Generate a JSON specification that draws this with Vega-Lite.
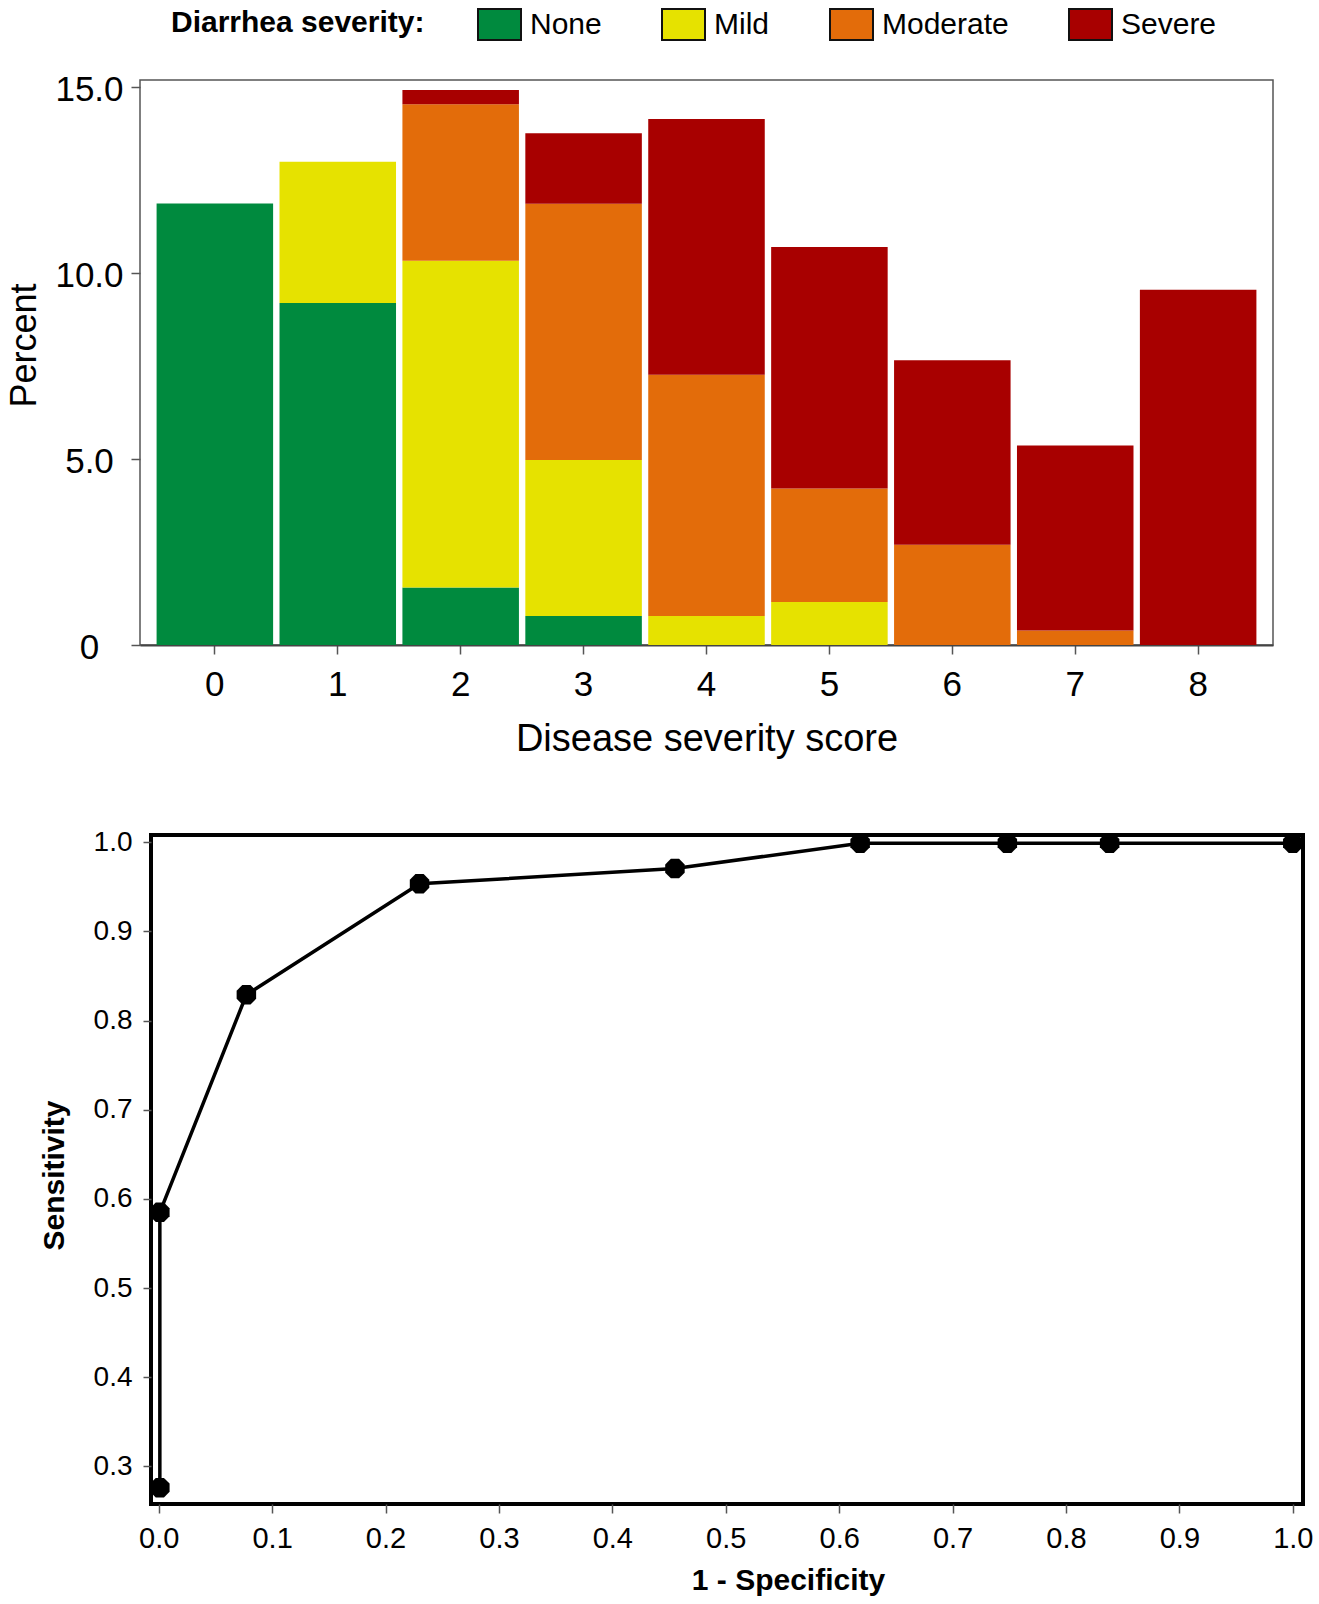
{
  "$schema": "https://vega.github.io/schema/vega-lite/v6.json",
  "padding": {"left": 4, "top": 2, "right": 5, "bottom": 0},
  "spacing": 67,
  "config": {
    "font": "Liberation Sans",
    "view": {"stroke": null},
    "axis": {"labelColor": "#000", "titleColor": "#000", "grid": false, "labelFont": "Liberation Sans", "titleFont": "Liberation Sans"}
  },
  "vconcat": [
    {
      "spacing": 0,
      "hconcat": [
        {
          "width": 1, "height": 1,
          "data": {"values": [{"a": 1}]},
          "mark": {"type": "point", "opacity": 0, "size": 1},
          "view": {"stroke": null}
        },
        {
          "width": 1133,
          "height": 565,
          "view": {"stroke": "#555", "strokeWidth": 1.5},
          "data": {"values": [
            {"score": 0, "diarrhea": "None", "k": 1, "percent": 11.88},
            {"score": 1, "diarrhea": "None", "k": 1, "percent": 9.2},
            {"score": 1, "diarrhea": "Mild", "k": 2, "percent": 3.8},
            {"score": 2, "diarrhea": "None", "k": 1, "percent": 1.55},
            {"score": 2, "diarrhea": "Mild", "k": 2, "percent": 8.79},
            {"score": 2, "diarrhea": "Moderate", "k": 3, "percent": 4.21},
            {"score": 2, "diarrhea": "Severe", "k": 4, "percent": 0.38},
            {"score": 3, "diarrhea": "None", "k": 1, "percent": 0.78},
            {"score": 3, "diarrhea": "Mild", "k": 2, "percent": 4.2},
            {"score": 3, "diarrhea": "Moderate", "k": 3, "percent": 6.89},
            {"score": 3, "diarrhea": "Severe", "k": 4, "percent": 1.9},
            {"score": 4, "diarrhea": "Mild", "k": 2, "percent": 0.78},
            {"score": 4, "diarrhea": "Moderate", "k": 3, "percent": 6.49},
            {"score": 4, "diarrhea": "Severe", "k": 4, "percent": 6.88},
            {"score": 5, "diarrhea": "Mild", "k": 2, "percent": 1.16},
            {"score": 5, "diarrhea": "Moderate", "k": 3, "percent": 3.05},
            {"score": 5, "diarrhea": "Severe", "k": 4, "percent": 6.5},
            {"score": 6, "diarrhea": "Moderate", "k": 3, "percent": 2.7},
            {"score": 6, "diarrhea": "Severe", "k": 4, "percent": 4.96},
            {"score": 7, "diarrhea": "Moderate", "k": 3, "percent": 0.39},
            {"score": 7, "diarrhea": "Severe", "k": 4, "percent": 4.98},
            {"score": 8, "diarrhea": "Severe", "k": 4, "percent": 9.56}
          ]},
          "mark": {"type": "bar"},
          "encoding": {
            "x": {
              "field": "score", "type": "ordinal",
              "scale": {"paddingInner": 0.052, "paddingOuter": 0.135},
              "axis": {
                "title": "Disease severity score", "labelAngle": 0, "labelFontSize": 35,
                "tickSize": 9, "labelPadding": 13, "tickColor": "#555", "tickWidth": 1.5,
                "domainColor": "#444", "domainWidth": 2,
                "titleFontSize": 38, "titleFontWeight": "normal", "titleBaseline": "alphabetic", "titleY": 105
              }
            },
            "y": {
              "field": "percent", "type": "quantitative", "stack": "zero",
              "scale": {"domain": [0, 15.2], "nice": false},
              "axis": {
                "title": "Percent", "values": [0, 5, 10, 15],
                "labelExpr": "datum.value == 0 ? '0' : format(datum.value, '.1f')",
                "labelFontSize": 35, "labelAlign": "center", "labelPadding": 42, "labelOffset": 2,
                "tickSize": 9, "tickColor": "#555", "tickWidth": 1.5, "domain": false,
                "titleFontSize": 36, "titleFontWeight": "normal", "titleX": -105, "titleY": 265, "titleBaseline": "alphabetic"
              }
            },
            "color": {
              "field": "diarrhea", "type": "nominal",
              "scale": {"domain": ["None", "Mild", "Moderate", "Severe"], "range": ["#008a3e", "#e6e200", "#e36c0a", "#a80000"]},
              "legend": {
                "orient": "none", "legendX": 167, "legendY": -78, "direction": "horizontal",
                "title": "Diarrhea severity:", "titleOrient": "left", "titleFontSize": 30, "titleFontWeight": "bold",
                "titleLimit": 500, "titleColor": "#000", "titlePadding": 52, "labelFontSize": 30, "labelColor": "#000", "labelOffset": 8,
                "labelLimit": 300, "columnPadding": 56, "padding": 0,
                "symbolType": "M-1,-0.72H1V0.72H-1Z", "symbolSize": 1849,
                "symbolStrokeColor": "#111", "symbolStrokeWidth": 2, "symbolOpacity": 1
              }
            },
            "order": {"field": "k", "type": "quantitative"}
          }
        }
      ]
    },
    {
      "spacing": 20,
      "hconcat": [
        {
          "width": 13, "height": 1,
          "data": {"values": [{"a": 1}]},
          "mark": {"type": "point", "opacity": 0, "size": 1},
          "view": {"stroke": null}
        },
        {
          "width": 1152,
          "height": 669,
          "view": {"stroke": "black", "strokeWidth": 4},
          "data": {"values": [
            {"step": 1, "fpr": 0.001, "sens": 0.276},
            {"step": 2, "fpr": 0.001, "sens": 0.585},
            {"step": 3, "fpr": 0.0773, "sens": 0.829},
            {"step": 4, "fpr": 0.2300, "sens": 0.9535},
            {"step": 5, "fpr": 0.4552, "sens": 0.9705},
            {"step": 6, "fpr": 0.6185, "sens": 0.999},
            {"step": 7, "fpr": 0.7483, "sens": 0.999},
            {"step": 8, "fpr": 0.8385, "sens": 0.999},
            {"step": 9, "fpr": 1.0, "sens": 0.999}
          ]},
          "encoding": {
            "x": {
              "field": "fpr", "type": "quantitative",
              "scale": {"domain": [-0.0068, 1.009], "nice": false, "zero": false},
              "axis": {
                "title": "1 - Specificity", "values": [0, 0.1, 0.2, 0.3, 0.4, 0.5, 0.6, 0.7, 0.8, 0.9, 1.0],
                "format": ".1f", "labelFontSize": 29, "tickSize": 9, "labelPadding": 11,
                "tickColor": "#555", "tickWidth": 1.5, "domain": false,
                "titleFontSize": 30, "titleFontWeight": "bold", "titleX": 637, "titleY": 85, "titleBaseline": "alphabetic"
              }
            },
            "y": {
              "field": "sens", "type": "quantitative",
              "scale": {"domain": [0.2577, 1.0082], "nice": false, "zero": false},
              "axis": {
                "title": "Sensitivity", "values": [0.3, 0.4, 0.5, 0.6, 0.7, 0.8, 0.9, 1.0],
                "format": ".1f", "labelFontSize": 28, "tickSize": 8, "labelPadding": 11,
                "tickColor": "#555", "tickWidth": 1.5, "domain": false,
                "titleFontSize": 30, "titleFontWeight": "bold", "titleX": -88, "titleY": 340, "titleBaseline": "alphabetic"
              }
            }
          },
          "layer": [
            {
              "mark": {"type": "line", "color": "black", "strokeWidth": 3.5},
              "encoding": {"order": {"field": "step", "type": "quantitative"}}
            },
            {
              "mark": {"type": "point", "shape": "M-0.42,-1L0.42,-1L1,-0.42L1,0.42L0.42,1L-0.42,1L-1,0.42L-1,-0.42Z", "size": 380, "filled": true, "color": "black", "opacity": 1}
            }
          ]
        }
      ]
    }
  ]
}
